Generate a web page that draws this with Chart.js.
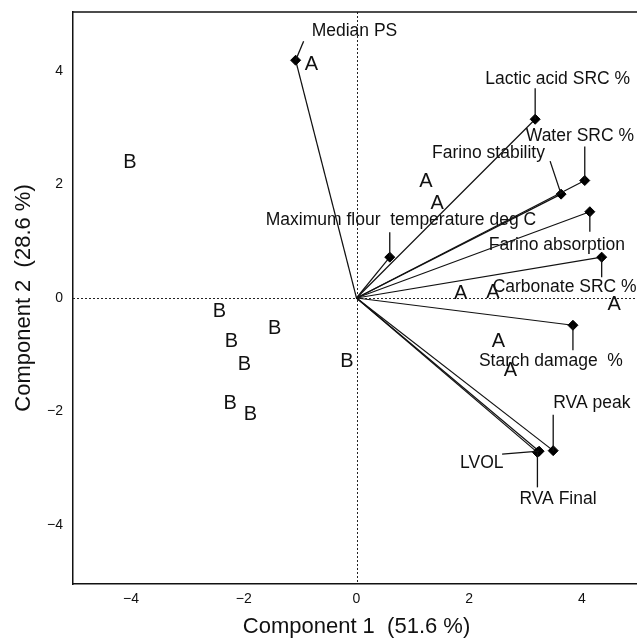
<!DOCTYPE html>
<html>
<head>
<meta charset="utf-8">
<script src="https://cdn.jsdelivr.net/npm/chart.js@4.4.0/dist/chart.umd.min.js"></script>
<style>
  html, body { margin: 0; padding: 0; overflow: hidden; background: #fff; }
  canvas { display: block; }
</style>
</head>
<body>
<canvas id="biplot" width="646" height="639"></canvas>
<script>
// variable loadings (component 1, component 2)
const variables = [
  'Median PS', 'Lactic acid SRC %', 'Water SRC %', 'Farino stability',
  'Maximum flour  temperature deg C', 'Farino absorption', 'Carbonate SRC %',
  'Starch damage  %', 'RVA peak', 'LVOL', 'RVA Final'
]
const loadX = [-1.08, 3.17, 4.05, 3.63, 0.59, 4.14, 4.35, 3.84, 3.49, 3.24, 3.21]
const loadY = [4.19, 3.15, 2.07, 1.83, 0.72, 1.52, 0.72, -0.48, -2.69, -2.70, -2.72]

// sample scores, group A and group B
const groupAx = [-0.80, 1.23, 1.43, 1.85, 2.42, 4.57, 2.52, 2.73]
const groupAy = [4.11, 2.05, 1.66, 0.08, 0.09, -0.12, -0.77, -1.27]
const groupBx = [-4.02, -2.43, -1.45, -2.22, -1.99, -2.24, -1.88, -0.17]
const groupBy = [2.38, -0.24, -0.53, -0.77, -1.18, -1.86, -2.05, -1.12]

const tickValues = [-4, -2, 0, 2, 4]
const tickLabels = ['\u22124', '\u22122', '0', '2', '4']
const xTitle = 'Component 1  (51.6 %)'
const yTitle = 'Component 2  (28.6 %)'

// where each label sits, in px from its diamond: leader end dx, dy, text left dx, text middle dy
const labelPlacement = [
  [8, -19, 16, -29],
  [0, -31, -50, -40],
  [0, -34, -59, -44],
  [-11, -33, -129, -41],
  [0, -25, -124, -37],
  [0, 20, -101, 33],
  [0, 20, -109, 30],
  [0, 25, -94, 36],
  [0, -36, 0, -47],
  [-37, 3, -79, 12],
  [0, 35, -18, 47]
]

const FONT = "'Liberation Sans', Arial, Helvetica, sans-serif"
const INK = '#111'

const vectorSets = variables.map((name, i) => ({
  label: name,
  data: [{x: 0, y: 0}, {x: loadX[i], y: loadY[i]}],
  showLine: true,
  borderColor: INK,
  borderWidth: 1.2,
  pointStyle: 'rectRot',
  pointRadius: [0, 5],
  pointBackgroundColor: '#000',
  pointBorderColor: '#000',
  pointBorderWidth: 1,
  kind: 'vector',
  place: labelPlacement[i]
}))

const letterSet = (letter, xs, ys) => ({
  label: letter,
  data: xs.map((x, i) => ({x: x, y: ys[i]})),
  showLine: false,
  pointRadius: 0,
  kind: 'letter'
})

const decor = {
  id: 'decor',
  beforeDatasetsDraw(chart) {
    const {ctx, chartArea: a, scales: {x, y}} = chart
    ctx.save()
    // dotted zero lines
    ctx.strokeStyle = '#222'
    ctx.lineWidth = 1
    ctx.setLineDash([2, 2])
    const x0 = Math.round(x.getPixelForValue(0)) + 0.5
    const y0 = Math.round(y.getPixelForValue(0)) + 0.5
    ctx.beginPath()
    ctx.moveTo(x0, a.top); ctx.lineTo(x0, a.bottom)
    ctx.moveTo(a.left, y0); ctx.lineTo(a.right, y0)
    ctx.stroke()
    // top frame line
    ctx.setLineDash([])
    ctx.lineWidth = 1.5
    ctx.strokeStyle = INK
    ctx.beginPath()
    ctx.moveTo(a.left, a.top); ctx.lineTo(a.right, a.top)
    ctx.stroke()
    ctx.restore()
  },
  afterDatasetsDraw(chart) {
    const ctx = chart.ctx
    ctx.save()
    chart.data.datasets.forEach((ds, di) => {
      const meta = chart.getDatasetMeta(di)
      if (ds.kind === 'vector') {
        const pt = meta.data[1]
        const p = ds.place
        ctx.strokeStyle = INK
        ctx.lineWidth = 1.3
        ctx.beginPath()
        ctx.moveTo(pt.x, pt.y)
        ctx.lineTo(pt.x + p[0], pt.y + p[1])
        ctx.stroke()
        ctx.fillStyle = INK
        ctx.font = '17.5px ' + FONT
        ctx.textAlign = 'left'
        ctx.textBaseline = 'middle'
        ctx.fillText(ds.label, pt.x + p[2], pt.y + p[3])
      } else if (ds.kind === 'letter') {
        ctx.fillStyle = INK
        ctx.font = '20px ' + FONT
        ctx.textAlign = 'center'
        ctx.textBaseline = 'middle'
        meta.data.forEach(el => ctx.fillText(ds.label, el.x, el.y))
      }
    })
    ctx.restore()
  }
}

const axisOpts = (title, titlePad, fitFn) => ({
  type: 'linear',
  afterBuildTicks: s => { s.ticks = tickValues.map(v => ({value: v})) },
  afterFit: fitFn,
  ticks: {
    callback: (v, i) => tickLabels[i],
    font: {family: FONT, size: 14},
    color: INK,
    autoSkip: false,
    maxRotation: 0
  },
  grid: {display: false, drawTicks: false},
  border: {display: true, color: INK, width: 1.5},
  title: {
    display: true,
    text: title,
    font: {family: FONT, size: 22, lineHeight: 0.9},
    color: INK,
    padding: titlePad
  }
})

const xAxis = axisOpts(xTitle, {top: 0, bottom: 2}, s => {
  s.height = 55
  s.paddingLeft = 0
  s.paddingRight = 0
})
xAxis.min = -5.03
xAxis.max = 5.03
xAxis.ticks.padding = 7

const yAxis = axisOpts(yTitle, {top: 14, bottom: 0}, s => {
  s.width = 73
  s.paddingTop = 0
  s.paddingBottom = 0
})
yAxis.min = -5.04
yAxis.max = 5.04
yAxis.ticks.padding = 10

new Chart(document.getElementById('biplot'), {
  type: 'scatter',
  data: {
    datasets: vectorSets.concat([
      letterSet('A', groupAx, groupAy),
      letterSet('B', groupBx, groupBy)
    ])
  },
  options: {
    responsive: false,
    animation: false,
    devicePixelRatio: 1,
    layout: {padding: {top: 12, right: 2, left: 0, bottom: 0}},
    scales: {x: xAxis, y: yAxis},
    plugins: {
      legend: {display: false},
      tooltip: {enabled: false}
    }
  },
  plugins: [decor]
})
</script>
</body>
</html>
